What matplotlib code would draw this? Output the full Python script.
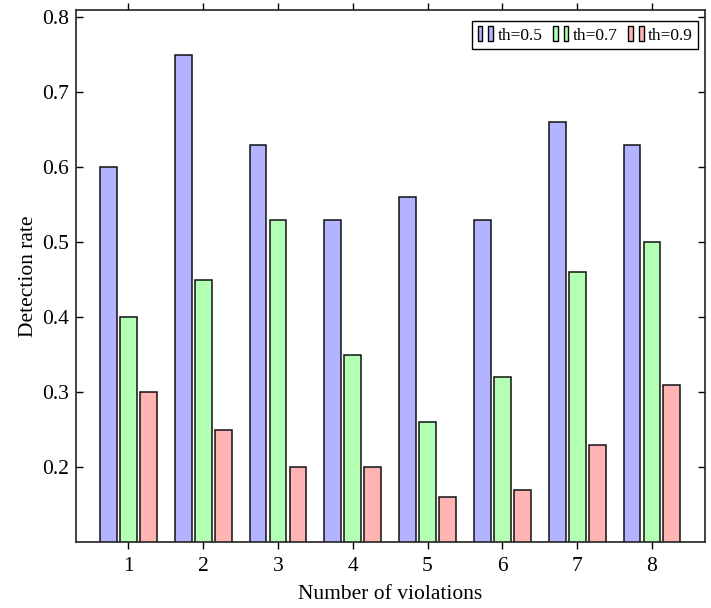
import matplotlib
matplotlib.use('Agg')
import matplotlib.pyplot as plt
import numpy as np
from matplotlib.patches import Rectangle
from matplotlib.legend_handler import HandlerTuple

plt.rcParams['font.family'] = ['Liberation Serif', 'DejaVu Serif']

violations = [1, 2, 3, 4, 5, 6, 7, 8]
th05 = [0.60, 0.75, 0.63, 0.53, 0.56, 0.53, 0.66, 0.63]
th07 = [0.40, 0.45, 0.53, 0.35, 0.26, 0.32, 0.46, 0.50]
th09 = [0.30, 0.25, 0.20, 0.20, 0.16, 0.17, 0.23, 0.31]
labels = ['th=0.5', 'th=0.7', 'th=0.9']
colors = ['#B3B3FF', '#B3FFB3', '#FFB3B3']

fig = plt.figure(figsize=(7.11, 6.08), dpi=100)
ax = fig.add_axes([0.1069, 0.1086, 0.8847, 0.875])

x = np.array(violations)
step = 0.267
width = 0.225
for i, (vals, c) in enumerate(zip([th05, th07, th09], colors)):
    ax.bar(x + (i - 1) * step, vals, width, color=c, edgecolor='#111111',
           linewidth=1.1, zorder=2)

ax.set_xlim(0.3, 8.71)
ax.set_ylim(0.1, 0.81)
ax.set_xticks(violations)
ax.set_yticks([0.2, 0.3, 0.4, 0.5, 0.6, 0.7, 0.8])
ax.tick_params(axis='x', direction='out', top=True, length=5, width=1, labelsize=15.5, pad=6)
ax.tick_params(axis='y', direction='in', right=True, length=5, width=1, labelsize=15.5, pad=5)
for s in ax.spines.values():
    s.set_linewidth(1.2)
    s.set_color('#222222')

ax.set_xlabel('Number of violations', fontsize=15.5, labelpad=6)
ax.set_ylabel('Detection rate', fontsize=15.5, labelpad=3)

# legend handle: two narrow bars per entry
handles = []
for c in colors:
    handles.append((Rectangle((0, 0), 1, 1, facecolor=c, edgecolor='black', lw=1),
                    Rectangle((0, 0), 1, 1, facecolor=c, edgecolor='black', lw=1)))
leg = ax.legend(handles, labels, loc='upper right', ncol=3, fontsize=12.5,
                handler_map={tuple: HandlerTuple(ndivide=2, pad=0.35)},
                handlelength=0.9, handleheight=0.9, handletextpad=0.25,
                columnspacing=0.6, borderpad=0.3, borderaxespad=0,
                fancybox=False, framealpha=1, edgecolor='black',
                bbox_to_anchor=(0.989, 0.979))
leg.get_frame().set_linewidth(1.0)

fig.savefig('out.png', dpi=100)
